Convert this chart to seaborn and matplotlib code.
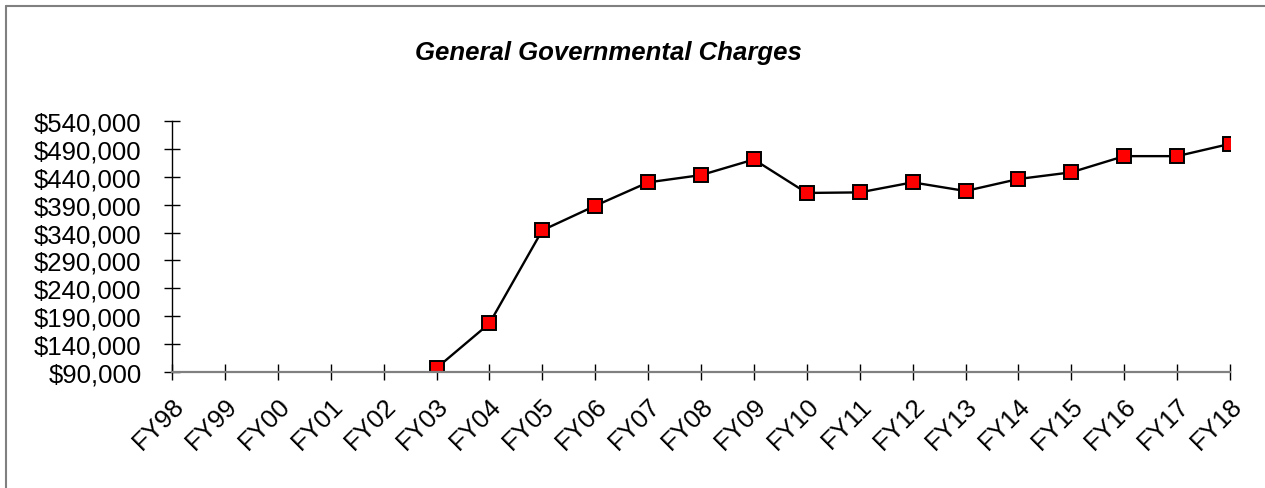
import numpy as np
import pandas as pd
import matplotlib
matplotlib.use("Agg")
import matplotlib.pyplot as plt
import seaborn as sns
from matplotlib.ticker import FuncFormatter

years = ["FY98", "FY99", "FY00", "FY01", "FY02", "FY03", "FY04", "FY05", "FY06",
         "FY07", "FY08", "FY09", "FY10", "FY11", "FY12", "FY13", "FY14", "FY15",
         "FY16", "FY17", "FY18"]
charges = [np.nan, np.nan, np.nan, np.nan, np.nan, 97000, 177000, 344000, 388000,
           430000, 443000, 471000, 411000, 412000, 430000, 414500, 436000, 448000,
           477000, 477000, 499000]
y_ticks = [90000, 140000, 190000, 240000, 290000, 340000, 390000, 440000, 490000, 540000]

df = pd.DataFrame({"pos": np.arange(len(years)), "year": years, "charges": charges})

sns.set_theme(style="white")
plt.rcParams["font.family"] = ["Liberation Sans", "DejaVu Sans"]
plt.rcParams["text.color"] = "black"

fig = plt.figure(figsize=(12.65, 4.89), dpi=100)
ax = fig.add_axes([172 / 1265, 1 - 373 / 489, (1230 - 172) / 1265, (373 - 122) / 489])

sns.lineplot(data=df, x="pos", y="charges", ax=ax, color="black", linewidth=1.7,
             marker="s", markersize=10.5, markerfacecolor="#ff0000",
             markeredgecolor="black", markeredgewidth=1.4)

ax.set_xlim(0, len(years) - 1)
ax.set_ylim(y_ticks[0], y_ticks[-1])
ax.set_yticks(y_ticks)
ax.yaxis.set_major_formatter(FuncFormatter(lambda v, p: f"${v:,.0f}"))
ax.set_xticks(df["pos"])
ax.set_xticklabels(years, rotation=45, ha="right", rotation_mode="anchor")
ax.set_xlabel("")
ax.set_ylabel("")

for s in ["top", "right"]:
    ax.spines[s].set_visible(False)
ax.spines["left"].set_color("black")
ax.spines["left"].set_linewidth(1.0)
ax.spines["bottom"].set_color("#808080")
ax.spines["bottom"].set_linewidth(1.6)
ax.tick_params(axis="both", direction="inout", length=12, width=1.0, color="black",
               labelsize=18.5, labelcolor="black", bottom=True, left=True)
ax.tick_params(axis="y", pad=16)
ax.tick_params(axis="x", pad=9)
ax.set_facecolor("white")

fig.text(608 / 1265, 1 - 53 / 489, "General Governmental Charges", ha="center",
         va="center", fontsize=18.5, fontweight="bold", fontstyle="italic", color="black")

# chart area frame (left and top edges visible)
fig.add_artist(plt.Line2D([6 / 1265, 6 / 1265], [0, 1 - 7 / 489], transform=fig.transFigure,
                          color="#808080", linewidth=1.5))
fig.add_artist(plt.Line2D([6 / 1265, 1], [1 - 7 / 489, 1 - 7 / 489], transform=fig.transFigure,
                          color="#808080", linewidth=1.5))

fig.savefig("out.png", dpi=100)
